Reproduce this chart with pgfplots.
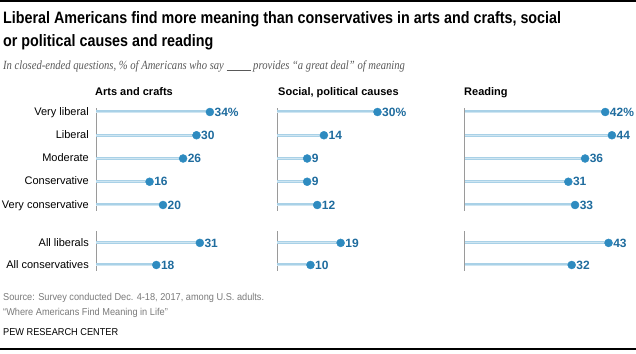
\documentclass[border=0pt]{standalone}
\usepackage{pgfplots}
\pgfplotsset{compat=1.18}
\usepackage{fontspec}
\setmainfont{Liberation Sans}
\newfontfamily\titlefont{Liberation Sans}[FakeStretch=0.868]
\newfontfamily\notefont{Liberation Sans}[FakeStretch=0.92]
\newfontfamily\subfont{Liberation Serif}[FakeStretch=0.85]
\definecolor{dotblue}{HTML}{2E8BC0}
\definecolor{labblue}{HTML}{1F6C9E}
\definecolor{linedark}{HTML}{A9D1E7}
\definecolor{linelight}{HTML}{CFE6F2}
\definecolor{axgray}{HTML}{9A9A9A}
\definecolor{notegray}{HTML}{7A7A7A}
\pgfplotsset{
  lolli/.style={hide axis, clip=false, x=3.35bp, y=23.25bp, y dir=reverse,
    xmin=0, xmax=50, ymin=-1, ymax=7.5, anchor=north west,
    /pgf/number format/assume math mode=true},
  stem/.style={xcomb, draw=linedark, line width=3bp, forget plot},
  stemc/.style={xcomb, draw=linelight, line width=0.8bp, forget plot},
  dots/.style={only marks, mark=*, mark size=4bp, mark options={fill=dotblue, draw=dotblue},
    point meta=x,
    nodes near coords, nodes near coords style={anchor=west, xshift=3.5bp, inner sep=1bp,
      text=labblue, font=\bfseries\fontsize{12bp}{14bp}\selectfont}},
  vax/.style={draw=axgray, line width=0.9bp, forget plot}
}
\begin{document}
\begin{tikzpicture}
\path[use as bounding box] (0,0) rectangle (636bp,354bp);
\draw[black, line width=1.3bp] (0,353bp) -- (636bp,353bp);
\draw[black, line width=1.3bp] (0,5bp) -- (636bp,5bp);
% titles
\node[anchor=base west, inner sep=0, font=\titlefont\bfseries\fontsize{16.5bp}{19bp}\selectfont] at (3bp,330bp) {Liberal Americans find more meaning than conservatives in arts and crafts, social};
\node[anchor=base west, inner sep=0, font=\titlefont\bfseries\fontsize{16.5bp}{19bp}\selectfont] at (3bp,307bp) {or political causes and reading};
\node[anchor=base west, inner sep=0, text=black!65, font=\subfont\itshape\fontsize{12.5bp}{14bp}\selectfont] at (3bp,284bp) {In closed-ended questions, \% of Americans who say \rule[-0.5bp]{24bp}{0.6bp} provides “a great deal” of meaning};
% panel titles
\foreach \xx/\tt in {95/Arts and crafts, 278/{Social, political causes}, 464/Reading}
  \node[anchor=base west, inner sep=0, font=\bfseries\fontsize{11bp}{13bp}\selectfont] at (\xx bp,258bp) {\tt};
% row labels
\foreach \yy/\tt in {238/Very liberal, 215/Liberal, 192/Moderate, 169/Conservative, 145/Very conservative, 107/All liberals, 85/All conservatives}
  \node[anchor=base east, inner sep=0, font=\fontsize{11bp}{13bp}\selectfont] at (89bp,\yy bp) {\tt};
% footer
\node[anchor=base west, inner sep=0, text=notegray, font=\notefont\fontsize{10bp}{12bp}\selectfont] at (3bp,53bp) {Source: Survey conducted Dec. 4-18, 2017, among U.S. adults.};
\node[anchor=base west, inner sep=0, text=notegray, font=\notefont\fontsize{10bp}{12bp}\selectfont] at (3bp,39bp) {“Where Americans Find Meaning in Life”};
\node[anchor=base west, inner sep=0, font=\notefont\fontsize{10bp}{12bp}\selectfont] at (3bp,19bp) {PEW RESEARCH CENTER};

% Panel 1: Arts and crafts
\begin{axis}[lolli, at={(96bp,265.25bp)}]
\addplot[vax] coordinates {(0,-0.17) (0,4.26)};
\addplot[vax] coordinates {(0,5.12) (0,6.84)};
\addplot[stem] coordinates {(34,0) (30,1) (26,2) (16,3) (20,4) (31,5.63) (18,6.58)};
\addplot[stemc] coordinates {(34,0) (30,1) (26,2) (16,3) (20,4) (31,5.63) (18,6.58)};
\addplot[dots, nodes near coords={\pgfmathprintnumber{\pgfplotspointmeta}\%}] coordinates {(34,0)};
\addplot[dots] coordinates {(30,1) (26,2) (16,3) (20,4) (31,5.63) (18,6.58)};
\end{axis}
% Panel 2: Social, political causes
\begin{axis}[lolli, at={(277bp,265.25bp)}]
\addplot[vax] coordinates {(0,-0.17) (0,4.26)};
\addplot[vax] coordinates {(0,5.12) (0,6.84)};
\addplot[stem] coordinates {(30,0) (14,1) (9,2) (9,3) (12,4) (19,5.63) (10,6.58)};
\addplot[stemc] coordinates {(30,0) (14,1) (9,2) (9,3) (12,4) (19,5.63) (10,6.58)};
\addplot[dots, nodes near coords={\pgfmathprintnumber{\pgfplotspointmeta}\%}] coordinates {(30,0)};
\addplot[dots] coordinates {(14,1) (9,2) (9,3) (12,4) (19,5.63) (10,6.58)};
\end{axis}
% Panel 3: Reading
\begin{axis}[lolli, at={(464.5bp,265.25bp)}]
\addplot[vax] coordinates {(0,-0.17) (0,4.26)};
\addplot[vax] coordinates {(0,5.12) (0,6.84)};
\addplot[stem] coordinates {(42,0) (44,1) (36,2) (31,3) (33,4) (43,5.63) (32,6.58)};
\addplot[stemc] coordinates {(42,0) (44,1) (36,2) (31,3) (33,4) (43,5.63) (32,6.58)};
\addplot[dots, nodes near coords={\pgfmathprintnumber{\pgfplotspointmeta}\%}] coordinates {(42,0)};
\addplot[dots] coordinates {(44,1) (36,2) (31,3) (33,4) (43,5.63) (32,6.58)};
\end{axis}
\end{tikzpicture}
\end{document}
